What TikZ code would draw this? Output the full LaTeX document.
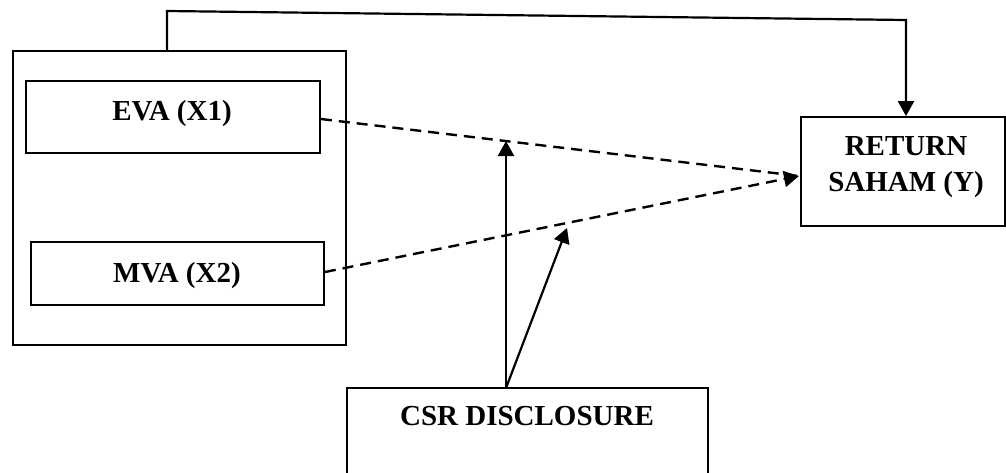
\documentclass[tikz,border=0pt]{standalone}
\usepackage{fontspec}
\setmainfont{Liberation Serif}
\usetikzlibrary{arrows.meta}
\begin{document}
\begin{tikzpicture}[x=1pt,y=-1pt,
  box/.style={draw,line width=1.8pt,rectangle,inner sep=0pt},
  lbl/.style={anchor=base,inner sep=0pt,font=\fontsize{29}{35}\selectfont\bfseries},
  link/.style={line width=2.2pt},
  dashlink/.style={line width=2.4pt,dash pattern=on 11pt off 7pt},
  tip/.style={-{Triangle[length=15pt,width=16pt]}}]
\useasboundingbox (0,0) rectangle (1006,472);

% boxes
\node[box,minimum width=333pt,minimum height=294pt] (outer) at (179.5,198) {};
\node[box,minimum width=294pt,minimum height=72pt] (eva) at (173,117) {};
\node[box,minimum width=293pt,minimum height=63pt] (mva) at (177.5,273.5) {};
\node[box,minimum width=204pt,minimum height=109pt] (ret) at (903,171.5) {};
\node[box,minimum width=361pt,minimum height=100pt] (csr) at (527.5,438) {};

% labels
\node[lbl] (evat) at (172,120) {EVA (X1)};
\node[lbl] (mvat) at (177,282) {MVA (X2)};
\node[lbl] (rett1) at (906,155) {RETURN};
\node[lbl] (rett2) at (906,191) {SAHAM (Y)};
\node[lbl] (csrt) at (527,425) {CSR DISCLOSURE};

% connector points
\coordinate (up1) at (167,11);
\coordinate (up2) at (906,20);
\coordinate (meet) at (799,176);
\coordinate (src) at (506,388);
\coordinate (hit1) at (506,141);
\coordinate (hit2) at (567,228);

% direct path from the variable group to returns
\draw[link,tip] (outer.north west -| up1) -- (up1) -- (up2) -- (up2 |- ret.north);

% dashed paths to returns
\draw[dashlink] (eva.east |- 0,119) -- (meet);
\draw[dashlink,tip] (mva.east |- 0,272) -- (meet);

% moderating arrows
\draw[link,tip] (src) -- (hit1);
\draw[link,tip] (src) -- (hit2);
\end{tikzpicture}
\end{document}
